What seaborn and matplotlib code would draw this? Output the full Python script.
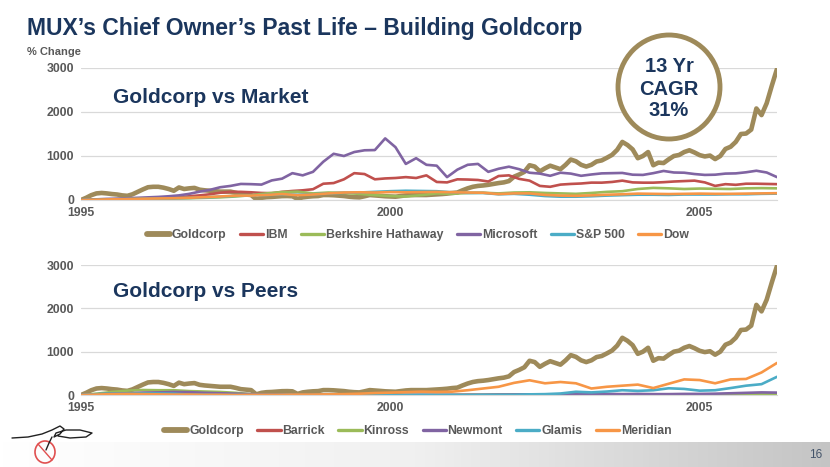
import numpy as np
import pandas as pd
import matplotlib
matplotlib.use("Agg")
import matplotlib.pyplot as plt
import matplotlib.font_manager as fm
from matplotlib.lines import Line2D
from matplotlib.patches import Ellipse
from matplotlib.colors import LinearSegmentedColormap
import seaborn as sns

# sampling grids, months since Jan 1995
gold_months = list(range(136))
bi_months = [0] + list(range(1, 136, 2))
q_months = list(range(0, 136, 3))

# % change values
goldcorp = [0, 50, 110, 150, 160, 150, 135, 125, 105, 95,
            130, 185, 240, 290, 300, 300, 280, 250, 210, 285,
            250, 265, 275, 235, 220, 210, 200, 190, 190, 190,
            165, 135, 125, 113, 15, 50, 65, 70, 80, 88,
            90, 85, 25, 60, 75, 85, 90, 113, 113, 108,
            100, 90, 75, 65, 60, 85, 113, 105, 95, 85,
            80, 75, 90, 105, 113, 113, 113, 113, 120, 128,
            135, 145, 160, 170, 220, 265, 300, 320, 330, 345,
            365, 385, 400, 430, 530, 580, 640, 790, 760, 650,
            720, 780, 740, 700, 800, 920, 880, 800, 760, 800,
            875, 900, 960, 1025, 1140, 1320, 1250, 1150, 950, 1000,
            1090, 790, 850, 840, 925, 1000, 1023, 1090, 1130, 1080,
            1020, 990, 1010, 930, 1000, 1160, 1210, 1320, 1500, 1510,
            1600, 2080, 1930, 2200, 2600, 2980]

ibm = [0, 3, 8, 12, 18, 25, 32, 40, 45, 52,
       60, 85, 105, 130, 165, 185, 185, 175, 160, 155,
       185, 205, 220, 245, 370, 385, 470, 610, 590, 470,
       490, 500, 520, 500, 560, 410, 400, 470, 465, 455,
       420, 545, 560, 480, 440, 320, 300, 350, 365, 375,
       395, 394, 410, 440, 400, 394, 394, 405, 420, 430,
       440, 400, 320, 360, 345, 370, 370, 365, 360]

microsoft = [0, 5, 15, 25, 30, 40, 50, 60, 70, 85,
             105, 140, 190, 230, 290, 320, 365, 360, 350, 445,
             485, 610, 560, 640, 870, 1050, 1000, 1090, 1130, 1135,
             1400, 1200, 820, 950, 800, 780, 520, 690, 800, 820,
             640, 710, 757, 700, 620, 600, 550, 620, 600, 550,
             580, 605, 610, 615, 575, 570, 610, 660, 625, 620,
             590, 570, 575, 600, 605, 630, 665, 625, 520]

berkshire = [0, 5, 10, 15, 20, 30, 35, 40, 50, 60,
             80, 110, 150, 180, 190, 150, 170, 160, 140, 110,
             90, 80, 110, 150, 140, 160, 165, 150, 170, 175,
             160, 150, 140, 160, 185, 200, 250, 275, 265, 250,
             260, 255, 250, 265, 270, 265]

sp500 = [0, 8, 15, 22, 30, 35, 38, 48, 60, 75,
         95, 100, 115, 130, 120, 130, 150, 165, 170, 185,
         200, 210, 205, 200, 175, 160, 160, 130, 140, 120,
         90, 75, 75, 85, 100, 110, 120, 120, 115, 125,
         125, 125, 130, 130, 140, 145]

dow = [0, 8, 15, 22, 30, 35, 40, 50, 65, 80,
       100, 100, 115, 135, 110, 125, 150, 170, 175, 170,
       180, 175, 180, 185, 175, 170, 165, 135, 150, 150,
       115, 100, 95, 105, 120, 130, 145, 140, 135, 140,
       145, 140, 140, 145, 150, 155]

barrick = [0, 10, 20, 30, 40, 45, 40, 35, 25, 20,
           15, 10, 5, 5, 0, 5, 10, 10, 5, 5,
           0, 0, 0, 0, 0, 5, 5, 10, 10, 15,
           10, 10, 10, 10, 10, 15, 15, 10, 10, 15,
           15, 15, 20, 25, 30, 30]

kinross = [0, 30, 70, 100, 115, 110, 110, 90, 80, 70,
           50, 20, 5, 0, 0, 0, 0, 0, 0, 0,
           0, 0, 0, 0, 0, 0, 0, 0, 5, 5,
           5, 10, 10, 15, 10, 10, 10, 5, 5, 10,
           10, 10, 20, 20, 30, 25]

newmont = [0, 15, 30, 40, 55, 60, 70, 65, 50, 40,
           30, 20, 10, 5, 0, 0, 0, 5, 0, 0,
           0, 0, 0, 0, 0, 0, 0, 5, 10, 15,
           10, 15, 20, 20, 25, 20, 25, 20, 20, 25,
           25, 30, 40, 50, 60, 55]

glamis = [0, 20, 30, 30, 35, 35, 30, 10, 5, 0,
          0, 0, 0, 0, 0, 0, 0, 0, 0, 0,
          0, 0, 0, 0, 0, 0, 5, 5, 5, 15,
          20, 35, 75, 60, 80, 110, 95, 110, 155, 140,
          100, 110, 160, 215, 250, 420]

meridian = [0, 10, 20, 25, 20, 15, 10, 10, 5, 5,
            0, 5, 5, 5, 10, 10, 15, 20, 30, 45,
            55, 65, 77, 70, 77, 110, 150, 190, 280, 340,
            270, 300, 270, 150, 190, 215, 240, 160, 260, 360,
            345, 270, 360, 370, 520, 740]

market = {'Goldcorp': (gold_months, goldcorp), 'IBM': (bi_months, ibm),
          'Berkshire Hathaway': (q_months, berkshire), 'Microsoft': (bi_months, microsoft),
          'S&P 500': (q_months, sp500), 'Dow': (q_months, dow)}
peers = {'Goldcorp': (gold_months, goldcorp), 'Barrick': (q_months, barrick),
         'Kinross': (q_months, kinross), 'Newmont': (q_months, newmont),
         'Glamis': (q_months, glamis), 'Meridian': (q_months, meridian)}

palette = ['#9E8A5A', '#C0504D', '#9BBB59', '#8064A2', '#4BACC6', '#F79646']
navy = '#1B365D'
grey = '#595959'


def to_long(series):
    frames = []
    for name, (months, vals) in series.items():
        frames.append(pd.DataFrame({'year': 1995 + np.array(months) / 12,
                                    'pct': vals, 'name': name}))
    return pd.concat(frames, ignore_index=True)


sns.set_style('white')
narrow = 'Liberation Sans'
if any(f.name == 'Liberation Sans Narrow' for f in fm.fontManager.ttflist):
    narrow = 'Liberation Sans Narrow'
plt.rcParams['font.family'] = ['Liberation Sans', 'DejaVu Sans']

fig = plt.figure(figsize=(8.3, 4.67), dpi=100)
W, H = 830, 467

ax_top = fig.add_axes([81 / W, 1 - 200 / H, 696 / W, 132 / H])
ax_bot = fig.add_axes([81 / W, 1 - 395 / H, 696 / W, 130 / H])

panels = [(ax_top, market, 'Goldcorp vs Market', -0.265),
          (ax_bot, peers, 'Goldcorp vs Peers', -0.277)]

for ax, series, label, leg_y in panels:
    df = to_long(series)
    order = list(series.keys())
    sns.lineplot(data=df, x='year', y='pct', hue='name', hue_order=order,
                 palette=palette, estimator=None, legend=False, ax=ax, linewidth=1.9)
    for line, name in zip(ax.get_lines(), order):
        line.set_solid_joinstyle('round')
        if name == 'Goldcorp':
            line.set_linewidth(3.3)

    ax.set_xlim(1995, 1995 + 135 / 12)
    ax.set_ylim(0, 3000)
    ax.set_xticks([1995, 2000, 2005])
    ax.set_xticklabels(['1995', '2000', '2005'])
    ax.set_yticks([0, 1000, 2000, 3000])
    ax.set_yticklabels(['0', '1000', '2000', '3000'])
    ax.set_xlabel('')
    ax.set_ylabel('')
    ax.yaxis.grid(True, color='#D9D9D9', linewidth=0.9)
    ax.xaxis.grid(False)
    ax.set_axisbelow(True)
    for side in ['top', 'right', 'left']:
        ax.spines[side].set_visible(False)
    ax.spines['bottom'].set_color('#D9D9D9')
    ax.tick_params(axis='both', length=0, pad=5, colors=grey)
    for t in ax.get_xticklabels() + ax.get_yticklabels():
        t.set_fontfamily(narrow)
        t.set_fontweight('bold')
        t.set_fontsize(8.8)

    ax.text(0.046, 0.735 if ax is ax_top else 0.756, label, transform=ax.transAxes,
            fontsize=15, fontweight='bold', color=navy, va='baseline', ha='left')

    handles = [Line2D([], [], color=c, lw=4.2 if n == 'Goldcorp' else 2.4)
               for n, c in zip(order, palette)]
    leg = ax.legend(handles, order, loc='center', bbox_to_anchor=(0.484, leg_y),
                    ncol=6, frameon=False, handlelength=1.9, handletextpad=0.15,
                    columnspacing=1.1,
                    prop={'family': narrow, 'weight': 'bold', 'size': 8.8})
    for t in leg.get_texts():
        t.set_color(grey)

# title and subtitle
fig.text(27 / W, 1 - 35 / H, 'MUX’s Chief Owner’s Past Life – Building Goldcorp',
         fontsize=16.5, fontweight='bold', color=navy, va='baseline', ha='left')
fig.text(27 / W, 1 - 55 / H, '% Change', fontsize=8, fontweight='bold',
         family=narrow, color=grey, va='baseline', ha='left')

# CAGR badge
badge = Ellipse((669 / W, 1 - 87 / H), 102 / W, 104 / H, transform=fig.transFigure,
                facecolor='white', edgecolor='#9E8A5A', linewidth=3.5, zorder=5)
fig.patches.append(badge)
for txt, base in [('13 Yr', 71.5), ('CAGR', 95), ('31%', 116)]:
    fig.text(669 / W, 1 - base / H, txt, fontsize=14.5, fontweight='bold', color=navy,
             ha='center', va='baseline', zorder=6)

# footer band
fax = fig.add_axes([0, 0, 1, 25 / H], zorder=-1)
band = LinearSegmentedColormap.from_list('band', ['#FFFFFF', '#F0F0F0', '#C4C4C4'])
fax.imshow(np.linspace(0, 1, 256)[None, :], aspect='auto', cmap=band,
           extent=[0, 1, 0, 1])
fax.axis('off')
fig.text(816 / W, 1 - 455 / H, '16', fontsize=8.5, color='#44546A',
         ha='center', va='center', family=narrow)

# small logo
lax = fig.add_axes([0, 0, 100 / W, 48 / H])
lax.set_xlim(0, 100)
lax.set_ylim(467, 419)
lax.axis('off')
lax.add_patch(Ellipse((45, 452), 20, 22, fill=False, edgecolor='#E05050', linewidth=1.2))
lax.plot([38, 52], [444, 460], color='#E05050', lw=1.0)
lax.plot([12, 28, 42, 52, 60, 64, 60, 54, 56, 66, 80, 92, 86, 70, 58],
         [438, 437, 434, 430, 426, 429, 434, 437, 433, 430, 430, 433, 437, 438, 436],
         color='#222222', lw=1.0)
lax.plot([52, 49, 46], [437, 443, 450], color='#222222', lw=1.0)

fig.savefig('out.png', dpi=100, facecolor='white')
